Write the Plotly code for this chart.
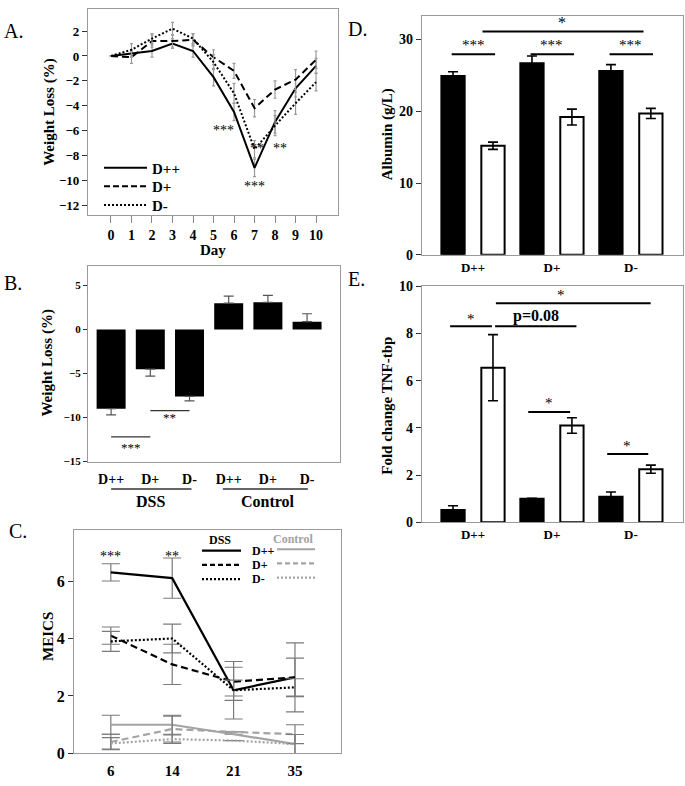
import plotly.graph_objects as go

W, H = 685, 786
SERIF = "Liberation Serif, Times New Roman, serif"
FRAME = "#9a9a9a"

# ---------------- Panel A: weight loss over days ----------------
days = list(range(11))
a_dpp = [0, 0.2, 0.4, 1.0, 0.4, -1.7, -4.5, -9.0, -5.3, -2.6, -0.8]
a_dp = [0, -0.1, 1.2, 1.2, 1.3, -0.1, -1.2, -4.2, -2.7, -1.9, -0.3]
a_dm = [0, 0.5, 1.4, 2.2, 1.4, -0.5, -3.0, -7.5, -5.6, -3.8, -2.1]
a_dpp_err = [0, 0.3, 0.5, 0.4, 0.5, 0.7, 0.7, 0.7, 0.9, 0.7, 0.6]
a_dp_err = [0, 0.5, 0.5, 0.5, 0.5, 0.6, 0.6, 0.7, 0.7, 0.8, 0.7]
a_dm_err = [0, 0.5, 0.4, 0.5, 0.4, 0.6, 0.8, 0.7, 0.8, 0.9, 0.7]
a_yticks = [-12, -10, -8, -6, -4, -2, 0, 2]

# ---------------- Panel B: weight loss bars ----------------
b_labels = ["D++", "D+", "D-", "D++", "D+", "D-"]
b_values = [-9.0, -4.5, -7.6, 3.0, 3.1, 0.9]
b_err_plus = [0, 0, 0, 0.8, 0.8, 0.9]
b_err_minus = [0.7, 0.8, 0.5, 0, 0, 0]
b_groups = ["DSS", "Control"]
b_yticks = [-15, -10, -5, 0, 5]

# ---------------- Panel C: MEICS ----------------
c_days = ["6", "14", "21", "35"]
c_dss_dpp = [6.3, 6.1, 2.2, 2.65]
c_dss_dp = [4.1, 3.1, 2.5, 2.65]
c_dss_dm = [3.9, 4.0, 2.2, 2.3]
c_dss_dpp_err = [0.3, 0.7, 1.0, 1.2]
c_dss_dp_err = [0.3, 0.7, 0.5, 0.67]
c_dss_dm_err = [0.35, 0.5, 0.35, 0.3]
c_ctl_dpp = [1.0, 1.0, 0.67, 0.33]
c_ctl_dp = [0.4, 0.85, 0.75, 0.67]
c_ctl_dm = [0.35, 0.5, 0.45, 0.33]
c_ctl_dpp_err = [0.33, 0.33, 0, 0.33]
c_ctl_dp_err = [0.27, 0.45, 0, 0.33]
c_ctl_dm_err = [0.2, 0.15, 0, 0.33]
c_yticks = [0, 2, 4, 6]

# ---------------- Panel D: albumin ----------------
d_groups = ["D++", "D+", "D-"]
d_black = [24.9, 26.7, 25.6]
d_black_err = [0.6, 1.0, 0.9]
d_white = [15.2, 19.2, 19.7]
d_white_err = [0.5, 1.1, 0.7]
d_yticks = [0, 10, 20, 30]

# ---------------- Panel E: TNF ----------------
e_black = [0.52, 1.0, 1.08]
e_black_err = [0.18, 0.02, 0.2]
e_white = [6.55, 4.1, 2.25]
e_white_err = [1.4, 0.33, 0.17]
e_yticks = [0, 2, 4, 6, 8, 10]

DASH = "7px,4px"
DOT = "2px,2px"


def PX(x):
    return x / W


def PY(y):
    return 1 - y / H


fig = go.Figure()

# ---- A traces
for vals, errs, dash, name in [(a_dpp, a_dpp_err, "solid", "D++"),
                               (a_dp, a_dp_err, DASH, "D+"),
                               (a_dm, a_dm_err, DOT, "D-")]:
    fig.add_trace(go.Scatter(
        x=days, y=vals, mode="lines", name=name, showlegend=False,
        line=dict(color="black", width=2, dash=dash),
        error_y=dict(type="data", array=errs, color="#9a9a9a", thickness=1.2, width=1.5),
        xaxis="x", yaxis="y"))

# ---- B trace
b_x = list(range(len(b_values)))
fig.add_trace(go.Bar(
    x=b_x, y=b_values, width=0.74, marker=dict(color="black", line=dict(width=0)),
    showlegend=False,
    error_y=dict(type="data", symmetric=False, array=b_err_plus, arrayminus=b_err_minus,
                 color="#555", thickness=1.2, width=5),
    xaxis="x2", yaxis="y2"))

# ---- C traces
c_x = list(range(len(c_days)))
for vals, errs, color, dash in [(c_ctl_dpp, c_ctl_dpp_err, "#a3a3a3", "solid"),
                                (c_ctl_dp, c_ctl_dp_err, "#a3a3a3", DASH),
                                (c_ctl_dm, c_ctl_dm_err, "#a3a3a3", DOT),
                                (c_dss_dpp, c_dss_dpp_err, "black", "solid"),
                                (c_dss_dp, c_dss_dp_err, "black", DASH),
                                (c_dss_dm, c_dss_dm_err, "black", DOT)]:
    fig.add_trace(go.Scatter(
        x=c_x, y=vals, mode="lines", showlegend=False,
        line=dict(color=color, width=2.2, dash=dash),
        error_y=dict(type="data", array=errs, color="#7a7a7a", thickness=1.2, width=9),
        xaxis="x3", yaxis="y3"))

# ---- D / E traces
g_x = list(range(len(d_groups)))
BW = 0.295
for vals, errs, fill, xa, ya, off in [
        (d_black, d_black_err, "black", "x4", "y4", -0.253),
        (d_white, d_white_err, "white", "x4", "y4", 0.253),
        (e_black, e_black_err, "black", "x5", "y5", -0.253),
        (e_white, e_white_err, "white", "x5", "y5", 0.253)]:
    fig.add_trace(go.Bar(
        x=g_x, y=vals, width=BW, offset=off - BW / 2, showlegend=False,
        marker=dict(color=fill, line=dict(color="black", width=2)),
        error_y=dict(type="data", array=errs, color="black", thickness=1.6, width=5),
        xaxis=xa, yaxis=ya))


def axis(domain, anchor, **kw):
    d = dict(domain=domain, anchor=anchor, showline=True, linecolor=FRAME, linewidth=1.2,
             mirror=True, showgrid=False, zeroline=False, ticks="outside",
             tickcolor="#333", ticklen=5, tickwidth=1,
             tickfont=dict(family=SERIF, size=13, color="black", weight="bold"))
    d.update(kw)
    return d


tf = lambda s: dict(family=SERIF, size=s, color="black", weight="bold")

fig.update_layout(
    width=W, height=H, margin=dict(l=0, r=0, t=0, b=0),
    paper_bgcolor="white", plot_bgcolor="white", barmode="overlay",
    xaxis=axis([PX(88), PX(338)], "y", range=[-1.12, 11.07], tickvals=days,
               ticklen=7, tickcolor="#888", tickfont=tf(14)),
    yaxis=axis([PY(212), PY(2)], "x", range=[-12.76, 3.78], tickvals=a_yticks,
               tickfont=tf(13)),
    xaxis2=axis([PX(88), PX(340)], "y2", range=[-0.59, 5.84], tickvals=b_x,
                ticktext=b_labels, ticklen=5, tickcolor="rgba(0,0,0,0)", tickfont=tf(14)),
    yaxis2=axis([PY(464), PY(264)], "x2", range=[-15, 7.27], tickvals=b_yticks,
                ticklen=4, tickfont=tf(11)),
    xaxis3=axis([PX(74), PX(341)], "y3", range=[-0.6, 3.75], tickvals=c_x,
                ticktext=c_days, ticklen=3, tickcolor="rgba(0,0,0,0)", tickfont=tf(15)),
    yaxis3=axis([PY(762), PY(534)], "x3", range=[0, 7.77], tickvals=c_yticks,
                tickfont=tf(16)),
    xaxis4=axis([PX(422), PX(683)], "y4", range=[-0.646, 2.66], tickvals=g_x,
                ticktext=d_groups, ticks="", tickfont=tf(13)),
    yaxis4=axis([PY(253), PY(9)], "x4", range=[0, 33.3], tickvals=d_yticks,
                tickfont=tf(14)),
    xaxis5=axis([PX(422), PX(683)], "y5", range=[-0.646, 2.66], tickvals=g_x,
                ticktext=d_groups, ticks="", tickfont=tf(13)),
    yaxis5=axis([PY(526), PY(285)], "x5", range=[0, 10], tickvals=e_yticks,
                tickfont=tf(14)),
)

ann = []
shapes = []


def text(x, y, s, size=13, xref="paper", yref="paper", bold=False, color="black",
         angle=0, xanchor="center"):
    ann.append(dict(x=x, y=y, xref=xref, yref=yref, text=s, showarrow=False,
                    textangle=angle, xanchor=xanchor, yanchor="middle",
                    font=dict(family=SERIF, size=size, color=color,
                              weight="bold" if bold else "normal")))


def line(x0, x1, y0, y1, xref="paper", yref="paper", color="black", width=2, dash="solid"):
    shapes.append(dict(type="line", x0=x0, x1=x1, y0=y0, y1=y1, xref=xref, yref=yref,
                       line=dict(color=color, width=width, dash=dash)))


# panel letters
for s, x, y in [("A.", 2, 24), ("B.", 2, 282), ("C.", 7, 535), ("D.", 346, 22), ("E.", 346, 278)]:
    text(PX(x), PY(y), s, size=20, xanchor="left")

# axis titles
text(PX(50), PY(107), "Weight Loss (%)", size=15, bold=True, angle=-90)
text(PX(213), PY(248), "Day", size=15, bold=True)
text(PX(48), PY(363), "Weight Loss (%)", size=15, bold=True, angle=-90)
text(PX(48), PY(643), "MEICS", size=15, bold=True, angle=-90)
text(PX(387), PY(130), "Albumin (g/L)", size=15, bold=True, angle=-90)
text(PX(387), PY(407), "Fold change TNF-tbp", size=15, bold=True, angle=-90)

# A annotations
text(5.5, -6.0, "***", size=14, xref="x", yref="y")
text(7.1, -7.4, "**", size=14, xref="x", yref="y")
text(8.25, -7.4, "**", size=14, xref="x", yref="y")
text(7.0, -10.5, "***", size=14, xref="x", yref="y")
# A legend
for i, (dash, lab) in enumerate([("solid", "D++"), ("6px,3px", "D+"), (DOT, "D-")]):
    y = 164 + 19 * i
    line(PX(104), PX(147), PY(y), PY(y), width=2, dash=dash)
    text(PX(150), PY(y + 1), lab, size=15, bold=True, xanchor="left")

# B annotations
line(0, 1, -12.2, -12.2, xref="x2", yref="y2", width=1.3, color="#333")
text(0.5, -13.4, "***", size=13, xref="x2", yref="y2")
line(1, 2, -9.2, -9.2, xref="x2", yref="y2", width=1.3, color="#333")
text(1.5, -10.0, "**", size=13, xref="x2", yref="y2")
line(0, 2.05, PY(492), PY(492), xref="x2", width=1.3, color="#333")
line(2.85, 5.02, PY(492), PY(492), xref="x2", width=1.3, color="#333")
text(1.0, PY(505), b_groups[0], size=16, bold=True, xref="x2")
text(4.0, PY(505), b_groups[1], size=16, bold=True, xref="x2")

# C annotations
text(0, 6.85, "***", size=14, xref="x3", yref="y3")
text(1, 6.85, "**", size=14, xref="x3", yref="y3")
text(PX(220), PY(544), "DSS", size=12, bold=True)
text(PX(293), PY(543), "Control", size=12, bold=True, color="#a3a3a3")
for i, (dash, lab) in enumerate([("solid", "D++"), ("5px,3px", "D+"), (DOT, "D-")]):
    y = 555 + 14.5 * i
    line(PX(202), PX(241), PY(y), PY(y), width=2.2, dash=dash)
    line(PX(277), PX(315), PY(y - 1.5), PY(y - 1.5), width=2.2, dash=dash, color="#a3a3a3")
    text(PX(250), PY(y), lab, size=12, bold=True, xanchor="left")

# D annotations
for g in g_x:
    line(g - 0.27, g + 0.28, 27.95, 27.95, xref="x4", yref="y4", width=2)
    text(g + 0.0, 29.3, "***", size=15, xref="x4", yref="y4")
line(0.12, 2.16, 31.1, 31.1, xref="x4", yref="y4", width=2)
text(1.13, 32.3, "*", size=16, xref="x4", yref="y4")

# E annotations
line(-0.29, 0.24, 8.3, 8.3, xref="x5", yref="y5", width=2)
text(-0.02, 8.62, "*", size=15, xref="x5", yref="y5")
line(0.28, 1.31, 8.3, 8.3, xref="x5", yref="y5", width=2)
text(0.8, 8.75, "p=0.08", size=16, bold=True, xref="x5", yref="y5")
line(0.29, 2.25, 9.28, 9.28, xref="x5", yref="y5", width=2)
text(1.11, 9.62, "*", size=15, xref="x5", yref="y5")
line(0.7, 1.23, 4.67, 4.67, xref="x5", yref="y5", width=2)
text(0.96, 5.05, "*", size=15, xref="x5", yref="y5")
line(1.7, 2.22, 2.89, 2.89, xref="x5", yref="y5", width=2)
text(1.95, 3.25, "*", size=15, xref="x5", yref="y5")

fig.update_layout(annotations=ann, shapes=shapes)
fig.write_html("out.html", config={"displayModeBar": False},
               post_script="document.body.style.margin='0px';")
